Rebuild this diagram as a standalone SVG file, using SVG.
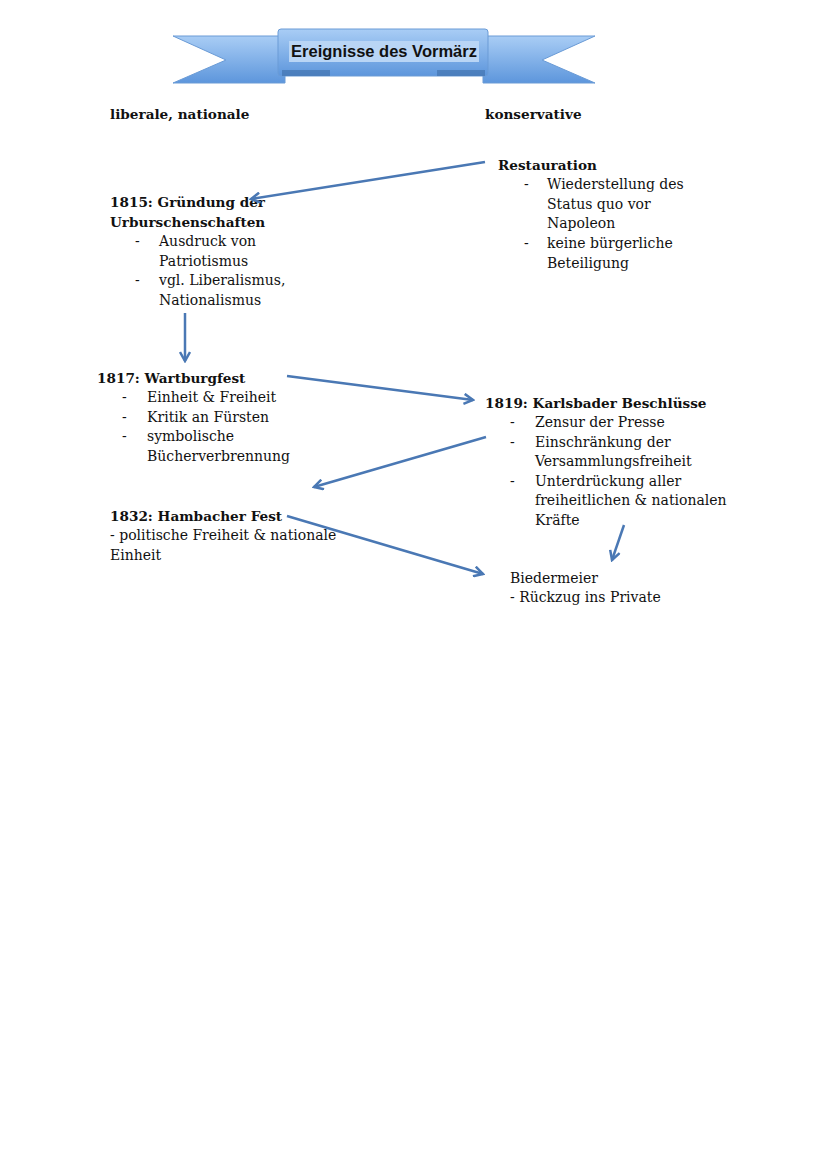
<svg xmlns="http://www.w3.org/2000/svg" width="828" height="1171" viewBox="0 0 828 1171">
<style>
.t{font-family:"DejaVu Serif","Liberation Serif",serif;font-size:14px;fill:#111}
.b{font-weight:bold;font-size:13.6px}
.c{stroke:#4a78b4;stroke-width:2.5;fill:none}
</style>
<defs>
<marker id="ah" viewBox="0 0 12 12" refX="10" refY="6" markerWidth="12" markerHeight="12" markerUnits="userSpaceOnUse" orient="auto">
<path d="M1,1 L10,6 L1,11" fill="none" stroke="#4a78b4" stroke-width="2.5"/>
</marker>
<linearGradient id="rib" x1="0" y1="0" x2="0" y2="1">
<stop offset="0" stop-color="#a9cdf5"/>
<stop offset="1" stop-color="#5d96dc"/>
</linearGradient>
</defs>
<rect width="828" height="1171" fill="#fff"/>
<g id="banner">
<polygon points="173,36 285,36 285,83 173,83 226,60" fill="url(#rib)" stroke="#6a9bd6"/>
<polygon points="595,36 483,36 483,83 595,83 542,60" fill="url(#rib)" stroke="#6a9bd6"/>
<rect x="278" y="29" width="210" height="47" rx="3" fill="url(#rib)" stroke="#6a9bd6"/>
<rect x="282" y="70" width="48" height="6" fill="#3d6ea8" opacity="0.6"/>
<rect x="437" y="70" width="48" height="6" fill="#3d6ea8" opacity="0.6"/>
<rect x="289" y="41" width="190" height="21" fill="#b9d5f5"/>
<text x="384" y="57" text-anchor="middle" style="font-family:'Liberation Sans',Arial,sans-serif;font-size:16.5px;font-weight:bold;fill:#111">Ereignisse des Vormärz</text>
</g>
<g id="headers">
<text class="t b" x="110" y="119">liberale, nationale</text>
<text class="t b" x="485" y="119">konservative</text>
</g>
<g id="restauration">
<text class="t b" x="498" y="170">Restauration</text>
<text class="t" x="524" y="189">-</text><text class="t" x="547" y="189">Wiederstellung des</text>
<text class="t" x="547" y="209">Status quo vor</text>
<text class="t" x="547" y="228">Napoleon</text>
<text class="t" x="524" y="248">-</text><text class="t" x="547" y="248">keine bürgerliche</text>
<text class="t" x="547" y="268">Beteiligung</text>
</g>
<g id="urburschenschaften">
<text class="t b" x="110" y="207">1815: Gründung der</text>
<text class="t b" x="110" y="227">Urburschenschaften</text>
<text class="t" x="135" y="246">-</text><text class="t" x="159" y="246">Ausdruck von</text>
<text class="t" x="159" y="266">Patriotismus</text>
<text class="t" x="135" y="285">-</text><text class="t" x="159" y="285">vgl. Liberalismus,</text>
<text class="t" x="159" y="305">Nationalismus</text>
</g>
<g id="wartburgfest">
<text class="t b" x="97" y="383">1817: Wartburgfest</text>
<text class="t" x="122" y="402">-</text><text class="t" x="147" y="402">Einheit &amp; Freiheit</text>
<text class="t" x="122" y="422">-</text><text class="t" x="147" y="422">Kritik an Fürsten</text>
<text class="t" x="122" y="441">-</text><text class="t" x="147" y="441">symbolische</text>
<text class="t" x="147" y="461">Bücherverbrennung</text>
</g>
<g id="karlsbad">
<text class="t b" x="485" y="408">1819: Karlsbader Beschlüsse</text>
<text class="t" x="510" y="427">-</text><text class="t" x="535" y="427">Zensur der Presse</text>
<text class="t" x="510" y="447">-</text><text class="t" x="535" y="447">Einschränkung der</text>
<text class="t" x="535" y="466">Versammlungsfreiheit</text>
<text class="t" x="510" y="486">-</text><text class="t" x="535" y="486">Unterdrückung aller</text>
<text class="t" x="535" y="505">freiheitlichen &amp; nationalen</text>
<text class="t" x="535" y="525">Kräfte</text>
</g>
<g id="hambach">
<text class="t b" x="110" y="521">1832: Hambacher Fest</text>
<text class="t" x="110" y="540">- politische Freiheit &amp; nationale</text>
<text class="t" x="110" y="560">Einheit</text>
</g>
<g id="biedermeier">
<text class="t" x="510" y="583">Biedermeier</text>
<text class="t" x="510" y="602">- Rückzug ins Private</text>
</g>
<g id="connectors">
<line class="c" x1="485" y1="162" x2="251" y2="199" marker-end="url(#ah)"/>
<line class="c" x1="185" y1="313" x2="185" y2="361" marker-end="url(#ah)"/>
<line class="c" x1="287" y1="376" x2="473" y2="400" marker-end="url(#ah)"/>
<line class="c" x1="486" y1="437" x2="314" y2="487" marker-end="url(#ah)"/>
<line class="c" x1="287" y1="516" x2="483" y2="574" marker-end="url(#ah)"/>
<line class="c" x1="624" y1="525" x2="612" y2="560" marker-end="url(#ah)"/>
</g>
</svg>
